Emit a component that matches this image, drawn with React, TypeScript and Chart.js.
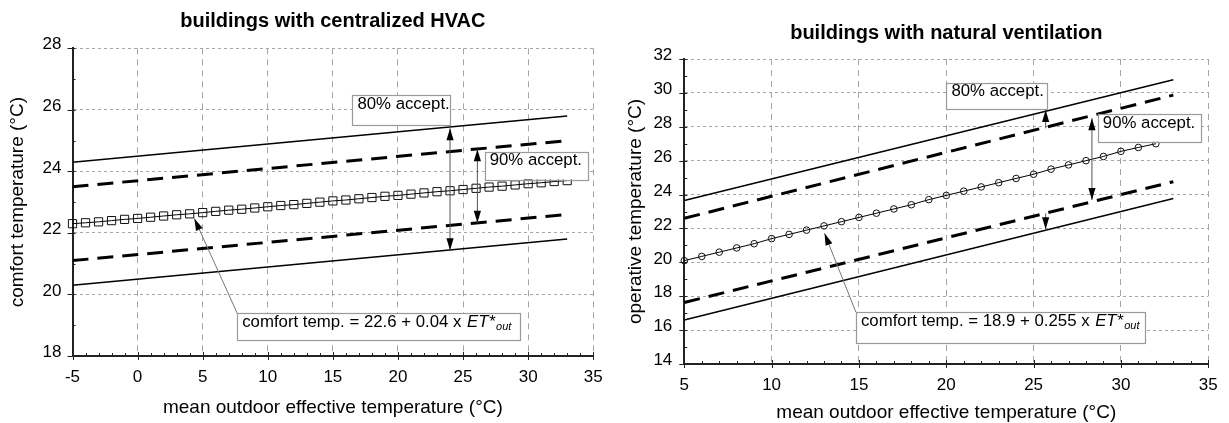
import React, { useEffect, useRef } from 'react';
import { Chart, registerables } from 'chart.js';

Chart.register(...registerables);

const FONT = '"Liberation Sans", Arial, Helvetica, sans-serif';

// ---------- shared text ----------
const xAxisTitle = 'mean outdoor effective temperature (°C)';
const label80 = '80% accept.';
const label90 = '90% accept.';
const formulaVar = 'ET*';
const formulaSub = 'out';

// ---------- left panel: buildings with centralized HVAC ----------
const hvacTitle = 'buildings with centralized HVAC';
const hvacYTitle = 'comfort temperature (°C)';
const hvacXTicks = [-5, 0, 5, 10, 15, 20, 25, 30, 35];
const hvacYTicks = [18, 20, 22, 24, 26, 28];
const hvacComfortX = [-5, -4, -3, -2, -1, 0, 1, 2, 3, 4, 5, 6, 7, 8, 9, 10, 11, 12, 13, 14, 15, 16, 17, 18, 19, 20, 21, 22, 23, 24, 25, 26, 27, 28, 29, 30, 31, 32, 33];
const hvacComfortY = [22.3, 22.33, 22.36, 22.4, 22.44, 22.47, 22.51, 22.55, 22.59, 22.62, 22.66, 22.7, 22.74, 22.77, 22.81, 22.85, 22.89, 22.92, 22.96, 23.0, 23.04, 23.07, 23.11, 23.15, 23.19, 23.22, 23.26, 23.3, 23.34, 23.37, 23.41, 23.45, 23.49, 23.52, 23.56, 23.6, 23.63, 23.67, 23.7];
const hvacBandX = [-5, 33];
const hvacUpper80 = [24.3, 25.8];
const hvacUpper90 = [23.5, 25.0];
const hvacLower90 = [21.1, 22.6];
const hvacLower80 = [20.3, 21.8];
const hvacFormula = 'comfort temp. = 22.6 + 0.04 x ';

// ---------- right panel: buildings with natural ventilation ----------
const nvTitle = 'buildings with natural ventilation';
const nvYTitle = 'operative temperature (°C)';
const nvXTicks = [5, 10, 15, 20, 25, 30, 35];
const nvYTicks = [14, 16, 18, 20, 22, 24, 26, 28, 30, 32];
const nvComfortX = [5, 6, 7, 8, 9, 10, 11, 12, 13, 14, 15, 16, 17, 18, 19, 20, 21, 22, 23, 24, 25, 26, 27, 28, 29, 30, 31, 32];
const nvComfortY = [20.1, 20.35, 20.6, 20.85, 21.1, 21.4, 21.65, 21.9, 22.15, 22.4, 22.65, 22.9, 23.15, 23.4, 23.7, 23.95, 24.2, 24.45, 24.7, 24.95, 25.2, 25.5, 25.75, 26.0, 26.25, 26.55, 26.78, 27.0];
const nvBandX = [5, 33];
const nvUpper80 = [23.65, 30.78];
const nvUpper90 = [22.6, 29.87];
const nvLower90 = [17.63, 24.76];
const nvLower80 = [16.6, 23.77];
const nvFormula = 'comfort temp. = 18.9 + 0.255 x ';

type Part = { t: string; italic?: boolean; sub?: boolean };
type Box = { x0: number; x1: number; y0: number; y1: number; parts: Part[] };
type Arrow = { x0: number; y0: number; x1: number; y1: number; start?: boolean; end?: boolean; color?: string };

type PanelSpec = {
  title: string;
  yTitle: string;
  xTicks: number[];
  yTicks: number[];
  comfortX: number[];
  comfortY: number[];
  bandX: number[];
  upper80: number[];
  upper90: number[];
  lower90: number[];
  lower80: number[];
  marker: string;
  markerRadius: number;
  boxes: Box[];
  arrows: Arrow[];
  geom: {
    width: number;
    padRight: number;
    yAxisWidth: number;
    xAxisHeight: number;
    titleTop: number;
    titleBottom: number;
    xTitlePad: number;
    yTitlePad: number;
    yTickPad: number;
  };
};

const hvacSpec: PanelSpec = {
  title: hvacTitle,
  yTitle: hvacYTitle,
  xTicks: hvacXTicks,
  yTicks: hvacYTicks,
  comfortX: hvacComfortX,
  comfortY: hvacComfortY,
  bandX: hvacBandX,
  upper80: hvacUpper80,
  upper90: hvacUpper90,
  lower90: hvacLower90,
  lower80: hvacLower80,
  marker: 'rect',
  markerRadius: 5.8,
  boxes: [
    { x0: 16.5, x1: 24.05, y0: 26.48, y1: 25.51, parts: [{ t: label80 }] },
    { x0: 26.66, x1: 34.59, y0: 24.64, y1: 23.74, parts: [{ t: label90 }] },
    { x0: 7.65, x1: 29.4, y0: 19.39, y1: 18.52, parts: [{ t: hvacFormula }, { t: formulaVar, italic: true }, { t: formulaSub, italic: true, sub: true }] },
  ],
  arrows: [
    { x0: 24, y0: 21.44, x1: 24, y1: 25.4, start: true, end: true },
    { x0: 26.1, y0: 22.33, x1: 26.1, y1: 24.72, start: true, end: true },
    { x0: 7.65, y0: 19.39, x1: 4.36, y1: 22.47, end: true, color: '#777' },
  ],
  geom: {
    width: 614,
    padRight: 12,
    yAxisWidth: 72.5,
    xAxisHeight: 67,
    titleTop: 9.5,
    titleBottom: 14.8,
    xTitlePad: 5.5,
    yTitlePad: 8.5,
    yTickPad: 11,
  },
};

const nvSpec: PanelSpec = {
  title: nvTitle,
  yTitle: nvYTitle,
  xTicks: nvXTicks,
  yTicks: nvYTicks,
  comfortX: nvComfortX,
  comfortY: nvComfortY,
  bandX: nvBandX,
  upper80: nvUpper80,
  upper90: nvUpper90,
  lower90: nvLower90,
  lower80: nvLower80,
  marker: 'circle',
  markerRadius: 3.3,
  boxes: [
    { x0: 20.01, x1: 25.81, y0: 30.6, y1: 29.05, parts: [{ t: label80 }] },
    { x0: 28.68, x1: 34.56, y0: 28.75, y1: 27.12, parts: [{ t: label90 }] },
    { x0: 14.83, x1: 31.4, y0: 17.05, y1: 15.22, parts: [{ t: nvFormula }, { t: formulaVar, italic: true }, { t: formulaSub, italic: true, sub: true }] },
  ],
  arrows: [
    { x0: 25.69, y0: 27.91, x1: 25.69, y1: 28.99, end: true },
    { x0: 25.69, y0: 22.89, x1: 25.69, y1: 21.95, end: true },
    { x0: 28.34, y0: 23.68, x1: 28.34, y1: 28.5, start: true, end: true },
    { x0: 14.83, y0: 17.05, x1: 13.03, y1: 21.71, end: true, color: '#777' },
  ],
  geom: {
    width: 615,
    padRight: 15,
    yAxisWidth: 70.3,
    xAxisHeight: 59,
    titleTop: 21,
    titleBottom: 14,
    xTitlePad: 0.5,
    yTitlePad: 12.5,
    yTickPad: 12,
  },
};

function drawHead(ctx: CanvasRenderingContext2D, fx: number, fy: number, tx: number, ty: number, len: number, hw: number) {
  const a = Math.atan2(ty - fy, tx - fx);
  const bx = tx - len * Math.cos(a);
  const by = ty - len * Math.sin(a);
  ctx.beginPath();
  ctx.moveTo(tx, ty);
  ctx.lineTo(bx + hw * Math.sin(a), by - hw * Math.cos(a));
  ctx.lineTo(bx - hw * Math.sin(a), by + hw * Math.cos(a));
  ctx.closePath();
  ctx.fill();
}

function makePlugin(p: PanelSpec) {
  return {
    id: 'panelExtras',
    afterDatasetsDraw(chart: any) {
      const ctx: CanvasRenderingContext2D = chart.ctx;
      const xs = chart.scales.x;
      const ys = chart.scales.y;
      const { left, bottom } = chart.chartArea;
      ctx.save();
      // minor / major ticks
      ctx.strokeStyle = '#222';
      ctx.lineWidth = 1;
      ctx.beginPath();
      const xMin = p.xTicks[0];
      const xMax = p.xTicks[p.xTicks.length - 1];
      for (let v = xMin; v <= xMax; v++) {
        const px = Math.round(xs.getPixelForValue(v)) + 0.5;
        const major = (v - xMin) % 5 === 0;
        ctx.moveTo(px, bottom - (major ? 4 : 3));
        ctx.lineTo(px, bottom + (major ? 4 : 0));
      }
      const yMin = p.yTicks[0];
      const yMax = p.yTicks[p.yTicks.length - 1];
      for (let v = yMin; v <= yMax; v++) {
        const py = Math.round(ys.getPixelForValue(v)) + 0.5;
        const major = (v - yMin) % 2 === 0;
        ctx.moveTo(left - (major ? 5 : 0), py);
        ctx.lineTo(left + 3, py);
      }
      ctx.stroke();

      // boxes with text
      for (const b of p.boxes) {
        const l = xs.getPixelForValue(b.x0);
        const r = xs.getPixelForValue(b.x1);
        const t = ys.getPixelForValue(b.y0);
        const bt = ys.getPixelForValue(b.y1);
        ctx.fillStyle = '#fff';
        ctx.fillRect(l, t, r - l, bt - t);
        ctx.strokeStyle = '#9a9a9a';
        ctx.lineWidth = 1.2;
        ctx.strokeRect(Math.round(l) + 0.5, Math.round(t) + 0.5, Math.round(r - l), Math.round(bt - t));
        let cx = l + 5;
        const cy = t + 9;
        ctx.fillStyle = '#000';
        ctx.textBaseline = 'middle';
        ctx.textAlign = 'left';
        for (const part of b.parts) {
          const size = part.sub ? 11 : 16.8;
          ctx.font = `${part.italic ? 'italic ' : ''}${size}px ${FONT}`;
          ctx.fillText(part.t, cx, cy + (part.sub ? 5 : 0));
          cx += ctx.measureText(part.t).width + (part.sub ? 0 : 1);
        }
      }

      // arrows
      for (const a of p.arrows) {
        const x0 = xs.getPixelForValue(a.x0);
        const y0 = ys.getPixelForValue(a.y0);
        const x1 = xs.getPixelForValue(a.x1);
        const y1 = ys.getPixelForValue(a.y1);
        ctx.strokeStyle = a.color || '#555';
        ctx.lineWidth = 1;
        ctx.beginPath();
        ctx.moveTo(x0, y0);
        ctx.lineTo(x1, y1);
        ctx.stroke();
        ctx.fillStyle = '#000';
        if (a.end) drawHead(ctx, x0, y0, x1, y1, 12, 3.6);
        if (a.start) drawHead(ctx, x1, y1, x0, y0, 12, 3.6);
      }
      ctx.restore();
    },
  };
}

function buildConfig(p: PanelSpec): any {
  const pts = (xs: number[], ys: number[]) => xs.map((x, i) => ({ x, y: ys[i] }));
  const solid = { borderColor: '#000', borderWidth: 1.5, pointRadius: 0, fill: false, tension: 0 };
  const dashed = { borderColor: '#000', borderWidth: 3, borderDash: [16, 9], pointRadius: 0, fill: false, tension: 0 };
  const g = p.geom;
  const tickFont = { family: FONT, size: 17 };
  const titleFont = { family: FONT, size: 19, lineHeight: 1 };
  return {
    type: 'line',
    data: {
      datasets: [
        { ...solid, data: pts(p.bandX, p.upper80) },
        { ...dashed, data: pts(p.bandX, p.upper90) },
        { ...dashed, data: pts(p.bandX, p.lower90) },
        { ...solid, data: pts(p.bandX, p.lower80) },
        {
          borderColor: '#000',
          borderWidth: 1,
          pointStyle: p.marker,
          pointRadius: p.markerRadius,
          pointBorderWidth: 1,
          pointBorderColor: '#111',
          pointBackgroundColor: 'rgba(0,0,0,0)',
          fill: false,
          tension: 0,
          clip: false,
          data: pts(p.comfortX, p.comfortY),
        },
      ],
    },
    options: {
      responsive: false,
      animation: false,
      devicePixelRatio: 1,
      events: [],
      layout: { padding: { left: 0, right: g.padRight, top: 0, bottom: 0 } },
      plugins: {
        legend: { display: false },
        tooltip: { enabled: false },
        title: {
          display: true,
          text: p.title,
          fullSize: false,
          color: '#000',
          font: { family: FONT, size: 20, weight: 'bold', lineHeight: 1.2 },
          padding: { top: g.titleTop, bottom: g.titleBottom },
        },
      },
      scales: {
        x: {
          type: 'linear',
          min: p.xTicks[0],
          max: p.xTicks[p.xTicks.length - 1],
          afterFit: (s: any) => {
            s.height = g.xAxisHeight;
          },
          ticks: {
            stepSize: p.xTicks[1] - p.xTicks[0],
            font: tickFont,
            color: '#000',
            padding: 11.3,
            maxRotation: 0,
            autoSkip: false,
          },
          grid: { color: '#a5a5a5', lineWidth: 1, drawTicks: false },
          border: { display: true, color: '#222', width: 2, dash: [6, 5] },
          title: { display: true, text: xAxisTitle, color: '#000', font: titleFont, padding: { top: 0, bottom: g.xTitlePad } },
        },
        y: {
          type: 'linear',
          min: p.yTicks[0],
          max: p.yTicks[p.yTicks.length - 1],
          afterFit: (s: any) => {
            s.width = g.yAxisWidth;
          },
          ticks: {
            stepSize: p.yTicks[1] - p.yTicks[0],
            font: tickFont,
            color: '#000',
            padding: g.yTickPad,
            labelOffset: -3.5,
            autoSkip: false,
          },
          grid: { color: '#a5a5a5', lineWidth: 1, drawTicks: false },
          border: { display: true, color: '#222', width: 2, dash: [3, 3] },
          title: { display: true, text: p.yTitle, color: '#000', font: titleFont, padding: { top: g.yTitlePad, bottom: 0 } },
        },
      },
    },
    plugins: [makePlugin(p)],
  };
}

function Panel({ spec, left }: { spec: PanelSpec; left: number }) {
  const ref = useRef<HTMLCanvasElement>(null);
  useEffect(() => {
    if (!ref.current) return;
    const chart = new Chart(ref.current, buildConfig(spec));
    return () => chart.destroy();
  }, [spec]);
  return (
    <canvas
      ref={ref}
      width={spec.geom.width}
      height={423}
      style={{ position: 'absolute', left, top: 0, width: spec.geom.width, height: 423 }}
    />
  );
}

export default function App() {
  return (
    <div style={{ position: 'absolute', left: 0, top: 0, width: 1229, height: 423, background: '#fff' }}>
      <Panel spec={hvacSpec} left={0} />
      <Panel spec={nvSpec} left={614} />
    </div>
  );
}
